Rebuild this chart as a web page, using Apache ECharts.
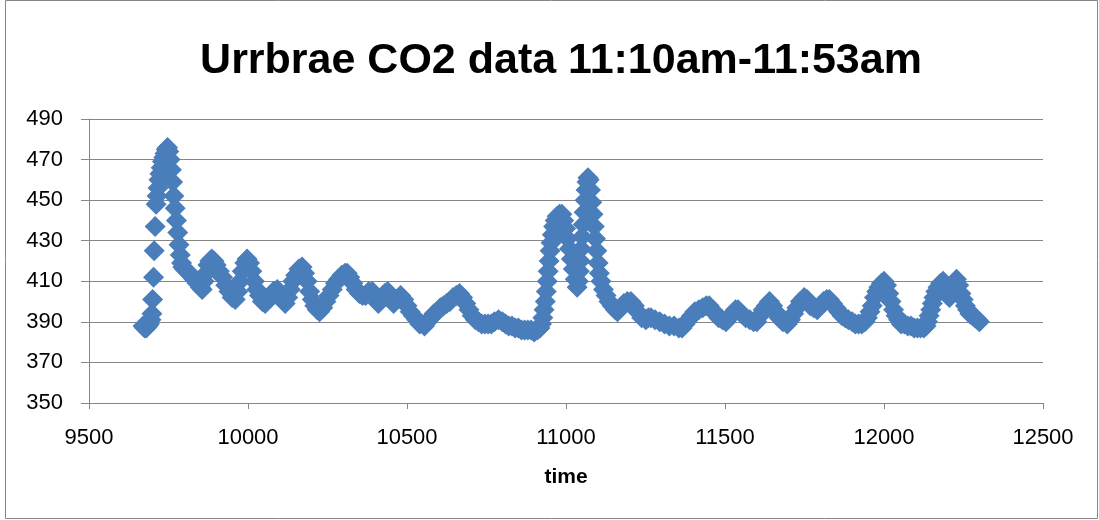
<!DOCTYPE html>
<html><head><meta charset="utf-8">
<script src="https://cdn.jsdelivr.net/npm/echarts@6/dist/echarts.min.js"></script>
<style>html,body{margin:0;padding:0;background:#fff}#c{width:1099px;height:520px}</style>
</head><body><div id="c"></div>
<script>
const titleText = "Urrbrae CO2 data 11:10am-11:53am";
const xAxisName = "time";
const xTicks = [9500, 10000, 10500, 11000, 11500, 12000, 12500];
const yTicks = [350, 370, 390, 410, 430, 450, 470, 490];

const timeVals = [
9670,9675,9680,9685,9690,9695,9698,9700,9703,9705,9708,9711,9714,9717,9720,9723,9727,9731,9735,9739,9743,9747,9751,9755,9759,9763,9767,9771,9775,9779,9783,9787,9791,9795,9800,9810,9820,9830,9840,9850,9856,9862,9868,9874,9880,9886,9893,9900,9910,9920,9930,9940,9950,9960,9968,9975,9982,9990,9997,10005,10012,10020,10028,10036,10045,10054,10062,10070,10080,10092,10100,10108,10117,10125,10133,10141,10150,10160,10170,10178,10186,10194,10202,10210,10218,10225,10235,10245,10255,10265,10275,10285,10295,10305,10312,10320,10330,10340,10350,10360,10370,10380,10391,10400,10410,10420,10430,10439,10448,10458,10468,10480,10490,10500,10510,10520,10530,10540,10555,10565,10575,10585,10595,10605,10615,10625,10635,10645,10655,10665,10675,10685,10695,10705,10715,10725,10735,10745,10755,10765,10775,10788,10800,10810,10820,10830,10840,10850,10860,10870,10880,10890,10900,10910,10918,10923,10927,10931,10935,10938,10941,10944,10947,10950,10953,10957,10961,10966,10972,10980,10987,10993,10999,11005,11011,11017,11023,11029,11035,11039,11042,11045,11048,11051,11054,11057,11060,11063,11066,11069,11073,11077,11081,11085,11089,11093,11097,11101,11105,11110,11118,11126,11135,11145,11155,11162,11172,11182,11193,11204,11215,11225,11238,11251,11259,11267,11280,11295,11310,11325,11340,11355,11365,11375,11385,11395,11405,11418,11430,11441,11450,11460,11470,11480,11492,11503,11513,11523,11533,11541,11552,11565,11578,11590,11600,11610,11620,11630,11640,11650,11660,11670,11682,11696,11706,11716,11726,11737,11749,11758,11768,11779,11790,11800,11810,11820,11828,11838,11848,11858,11868,11878,11888,11900,11910,11920,11930,11940,11948,11956,11963,11970,11977,11984,11992,12000,12008,12015,12022,12030,12038,12046,12054,12064,12075,12085,12095,12105,12115,12125,12132,12137,12142,12147,12152,12157,12163,12170,12178,12186,12194,12200,12206,12213,12220,12228,12235,12242,12249,12256,12263,12270,12278,12286,12294,12300
];
const co2Vals = [
388,387,387,388,389,391,394,401,412,425,437,448,452,456,460,463,466,469,471,473,475,476,474,470,465,459,452,446,440,434,428,423,419,417,416,415,413,411,409,407,406,410,414,418,420,421,420,418,415,412,408,405,402,401,405,410,415,419,421,419,415,410,406,403,400,399,401,403,405,406,404,401,399,402,406,410,413,416,417,414,410,405,401,398,396,395,397,400,403,406,409,411,413,414,414,412,409,406,404,403,403,405,405,402,399,402,404,405,402,399,401,403,401,398,395,393,391,389,388,390,392,394,395,397,398,399,400,402,403,404,402,399,396,393,391,390,389,389,389,389,390,391,390,389,388,388,387,387,386,386,386,386,385,386,387,389,392,396,400,405,410,415,420,425,429,433,437,440,442,443,443,440,436,431,426,421,416,411,407,410,415,420,426,432,438,444,450,455,459,461,460,455,449,443,437,431,425,419,414,410,406,403,400,398,396,395,397,399,400,400,398,395,392,391,392,392,391,390,389,388,388,387,387,389,391,393,395,396,397,398,398,396,394,392,391,390,392,394,396,396,394,392,391,390,390,393,396,398,400,398,395,392,390,389,391,394,397,400,402,401,398,397,396,398,400,401,401,399,397,395,393,392,391,390,389,389,389,390,392,395,398,402,405,407,409,410,408,404,400,396,393,391,389,389,388,388,387,387,387,387,388,390,393,396,399,402,405,407,409,410,406,403,402,405,409,411,408,404,401,398,396,394,393,392,391,390
];

const data = timeVals.map((t, i) => [t, co2Vals[i]]);
const gray = '#868686';
const chart = echarts.init(document.getElementById('c'), null, {renderer: 'canvas'});
chart.setOption({
  animation: false,
  backgroundColor: '#fff',
  title: {
    text: titleText, left: 556, top: 35, textAlign: 'center',
    textStyle: {fontFamily: 'Liberation Sans', fontWeight: 'bold', fontSize: 43, color: '#000'}
  },
  graphic: [{type: 'rect', shape: {x: 5.5, y: 0.5, width: 1092, height: 518}, style: {fill: 'none', stroke: gray, lineWidth: 1}, silent: true, z: -1}],
  grid: {left: 89, right: 56, top: 119, bottom: 117},
  xAxis: {
    type: 'value', min: xTicks[0], max: xTicks[xTicks.length - 1], interval: 500,
    name: xAxisName, nameLocation: 'middle', nameGap: 64,
    nameTextStyle: {fontFamily: 'Liberation Sans', fontWeight: 'bold', fontSize: 21, color: '#000'},
    axisLine: {show: true, onZero: false, lineStyle: {color: gray, width: 1}},
    axisTick: {show: true, length: 6, lineStyle: {color: gray}},
    axisLabel: {margin: 24, fontFamily: 'Liberation Sans', fontSize: 22, color: '#000', formatter: v => String(v)},
    splitLine: {show: false}
  },
  yAxis: {
    type: 'value', min: yTicks[0], max: yTicks[yTicks.length - 1], interval: 20,
    axisLine: {show: true, lineStyle: {color: gray, width: 1}},
    axisTick: {show: true, length: 8, lineStyle: {color: gray}},
    axisLabel: {margin: 26, fontFamily: 'Liberation Sans', fontSize: 22, color: '#000', formatter: v => String(v)},
    splitLine: {show: true, lineStyle: {color: gray, width: 1}}
  },
  series: [{
    type: 'scatter', data: data, symbol: 'diamond', symbolSize: 21,
    itemStyle: {color: '#4A7EBB', opacity: 1}
  }]
});
</script>
</body></html>
